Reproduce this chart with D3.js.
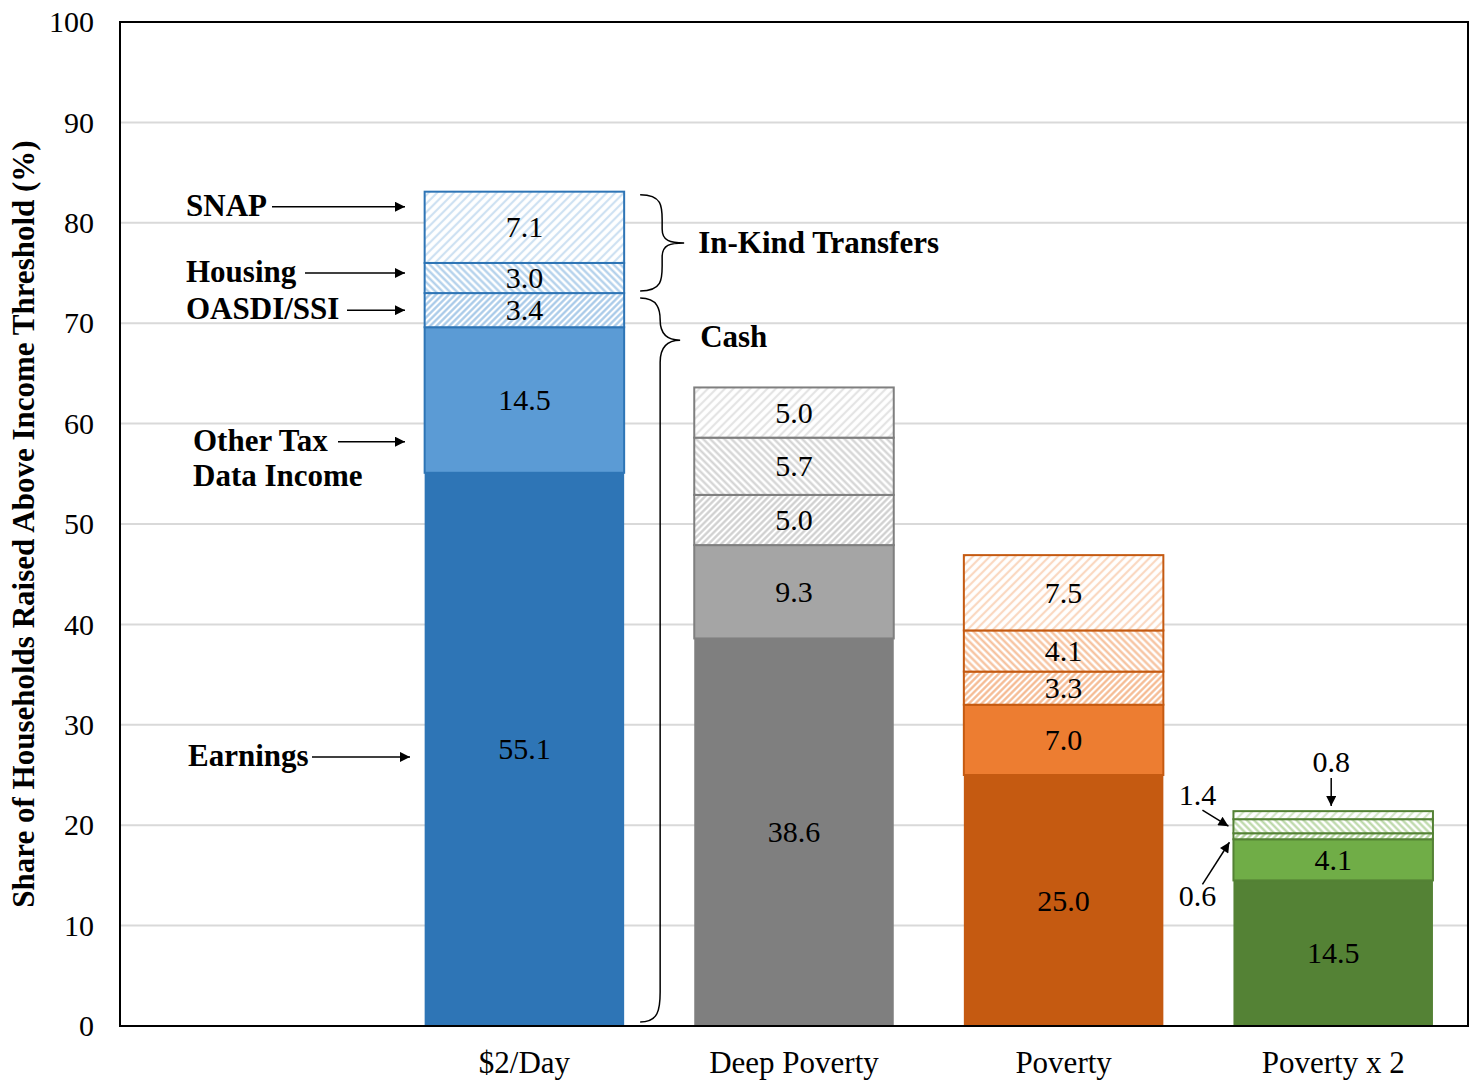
<!DOCTYPE html>
<html>
<head>
<meta charset="utf-8">
<script src="https://cdn.jsdelivr.net/npm/d3@7"></script>
<style>
  body { margin: 0; background: #fff; }
  text { font-family: "Liberation Serif", "Times New Roman", serif; }
</style>
</head>
<body>
<div class="chart"></div>
<script>
// data ---------------------------------
const categories = ["", "$2/Day", "Deep Poverty", "Poverty", "Poverty x 2"];
const earnings = [55.1, 38.6, 25.0, 14.5];
const otherTax = [14.5, 9.3, 7.0, 4.1];
const oasdi    = [3.4, 5.0, 3.3, 0.6];
const housing  = [3.0, 5.7, 4.1, 1.4];
const snap     = [7.1, 5.0, 7.5, 0.8];
const yTicks = [0, 10, 20, 30, 40, 50, 60, 70, 80, 90, 100];

const darkColors  = ["#2E75B6", "#7F7F7F", "#C55A11", "#548235"];
const lightColors = ["#5B9BD5", "#A5A5A5", "#ED7D31", "#70AD47"];

// chart init -----------------------------
const margin = {top: 22, right: 9, bottom: 56, left: 120};
const width = 1477 - margin.left - margin.right;
const height = 1082 - margin.top - margin.bottom;

const root = d3.select('.chart')
    .append('svg')
    .attr("width", 1477)
    .attr("height", 1082);

const svg = root.append("g")
    .attr("transform", "translate(" + margin.left + "," + margin.top + ")");

const xScale = d3.scaleBand()
    .domain(categories)
    .range([0, width])
    .paddingInner(0.26)
    .paddingOuter(0.13);

const yScale = d3.scaleLinear()
    .domain([0, 100])
    .range([height, 0]);

// patterns
const defs = root.append("defs");
const hatch = [
    {name: "snap", dir: 45, size: 6, sw: 2.2, t: 0.3},
    {name: "housing", dir: -45, size: 5, sw: 2.2, t: 0.5},
    {name: "oasdi", dir: 45, size: 4.5, sw: 2.2, t: 0.55}
];
darkColors.forEach((c, i) => {
    hatch.forEach(h => {
        const p = defs.append("pattern")
            .attr("id", h.name + i)
            .attr("patternUnits", "userSpaceOnUse")
            .attr("width", h.size)
            .attr("height", h.size)
            .attr("patternTransform", `rotate(${h.dir})`);
        p.append("rect").attr("width", h.size).attr("height", h.size).attr("fill", "#fff");
        p.append("line")
            .attr("x1", h.size / 2).attr("x2", h.size / 2)
            .attr("y1", 0).attr("y2", h.size)
            .attr("stroke", d3.interpolateRgb("#fff", lightColors[i])(h.t))
            .attr("stroke-width", h.sw);
    });
});

// gridlines
svg.append("g")
    .selectAll("line")
    .data(yTicks.slice(1, -1))
    .join("line")
    .attr("x1", 0).attr("x2", width)
    .attr("y1", d => yScale(d)).attr("y2", d => yScale(d))
    .attr("stroke", "#D9D9D9")
    .attr("stroke-width", 2);

// y axis labels
const yAxis = d3.axisLeft(yScale).tickValues(yTicks).tickSize(0).tickPadding(26);
svg.append("g")
    .attr("class", "y-axis")
    .call(yAxis)
    .call(g => g.select(".domain").remove())
    .selectAll("text")
    .style("font-size", "30px")
    .attr("fill", "#000");

// x axis labels
const xAxis = d3.axisBottom(xScale).tickSize(0).tickPadding(25);
svg.append("g")
    .attr("transform", `translate(0, ${height})`)
    .call(xAxis)
    .call(g => g.select(".domain").remove())
    .selectAll("text")
    .style("font-size", "31px")
    .attr("fill", "#000");

// stacked segments
const segments = [];
categories.slice(1).forEach((cat, i) => {
    const parts = [
        {key: "earn", v: earnings[i], fill: darkColors[i], stroke: "none"},
        {key: "other", v: otherTax[i], fill: lightColors[i], stroke: darkColors[i]},
        {key: "oasdi", v: oasdi[i], fill: `url(#oasdi${i})`, stroke: darkColors[i]},
        {key: "housing", v: housing[i], fill: `url(#housing${i})`, stroke: darkColors[i]},
        {key: "snap", v: snap[i], fill: `url(#snap${i})`, stroke: darkColors[i]}
    ];
    let base = 0;
    parts.forEach(p => {
        segments.push({cat: cat, y0: base, y1: base + p.v, v: p.v, fill: p.fill, stroke: p.stroke});
        base += p.v;
    });
});

svg.selectAll(".seg")
    .data(segments)
    .join("rect")
    .attr("class", "seg")
    .attr("x", d => xScale(d.cat))
    .attr("width", xScale.bandwidth())
    .attr("y", d => yScale(d.y1))
    .attr("height", d => yScale(d.y0) - yScale(d.y1))
    .attr("fill", d => d.fill)
    .attr("stroke", d => d.stroke)
    .attr("stroke-width", 2);

svg.selectAll(".val")
    .data(segments.filter(d => d.v >= 2))
    .join("text")
    .attr("class", "val")
    .attr("x", d => xScale(d.cat) + xScale.bandwidth() / 2)
    .attr("y", d => yScale((d.y0 + d.y1) / 2) + 10)
    .attr("text-anchor", "middle")
    .attr("font-size", "30px")
    .text(d => d.v.toFixed(1));

// frame
svg.append("rect")
    .attr("width", width).attr("height", height)
    .attr("fill", "none").attr("stroke", "#000").attr("stroke-width", 2);

// axis title
root.append("text")
    .attr("transform", `translate(34, ${margin.top + height / 2}) rotate(-90)`)
    .attr("text-anchor", "middle")
    .attr("font-size", "31px")
    .attr("font-weight", "bold")
    .text("Share of Households Raised Above Income Threshold (%)");

// arrow marker
defs.append("marker")
    .attr("id", "arrow")
    .attr("viewBox", "0 0 10 10")
    .attr("refX", 10).attr("refY", 5)
    .attr("markerWidth", 12).attr("markerHeight", 10)
    .attr("markerUnits", "userSpaceOnUse")
    .attr("orient", "auto")
    .append("path").attr("d", "M0,0 L10,5 L0,10 Z").attr("fill", "#000");

// left annotations
const leftLabels = [
    {lines: ["SNAP"], x: 66, v: 81.6, ax0: 152, ax1: 285},
    {lines: ["Housing"], x: 66, v: 75.0, ax0: 185, ax1: 285},
    {lines: ["OASDI/SSI"], x: 66, v: 71.3, ax0: 227, ax1: 285},
    {lines: ["Other Tax", "Data Income"], x: 73, v: 58.2, ax0: 218, ax1: 285},
    {lines: ["Earnings"], x: 68, v: 26.8, ax0: 192, ax1: 290}
];
leftLabels.forEach(l => {
    const y = yScale(l.v);
    l.lines.forEach((t, k) => {
        svg.append("text")
            .attr("x", l.x)
            .attr("y", y + 9 + k * 35)
            .attr("font-size", "31px")
            .attr("font-weight", "bold")
            .text(t);
    });
    svg.append("line")
        .attr("x1", l.ax0).attr("x2", l.ax1)
        .attr("y1", y).attr("y2", y)
        .attr("stroke", "#000").attr("stroke-width", 1.5)
        .attr("marker-end", "url(#arrow)");
});

// braces
const bx = xScale("$2/Day") + xScale.bandwidth() + 16;
const inTop = yScale(83.1) + 3, inBot = yScale(73.1) - 1, inMid = (inTop + inBot) / 2;
svg.append("path")
    .attr("d", `M${bx},${inTop} C${bx + 22},${inTop} ${bx + 22},${inTop + 12} ${bx + 22},${inTop + 25}
        L${bx + 22},${inMid - 14} C${bx + 22},${inMid - 2} ${bx + 30},${inMid} ${bx + 44},${inMid}
        C${bx + 30},${inMid} ${bx + 22},${inMid + 2} ${bx + 22},${inMid + 14}
        L${bx + 22},${inBot - 25} C${bx + 22},${inBot - 12} ${bx + 22},${inBot} ${bx},${inBot}`)
    .attr("fill", "none").attr("stroke", "#000").attr("stroke-width", 1.5);

const cTop = yScale(72.7) + 2, cBot = yScale(0) - 4, cMid = yScale(68.3);
svg.append("path")
    .attr("d", `M${bx},${cTop} C${bx + 18},${cTop} ${bx + 20},${cTop + 12} ${bx + 20},${cTop + 22}
        C${bx + 20},${cMid - 6} ${bx + 28},${cMid} ${bx + 40},${cMid}
        C${bx + 28},${cMid} ${bx + 20},${cMid + 6} ${bx + 20},${cMid + 22}
        L${bx + 20},${cBot - 30} C${bx + 20},${cBot - 12} ${bx + 18},${cBot} ${bx},${cBot}`)
    .attr("fill", "none").attr("stroke", "#000").attr("stroke-width", 1.5);

svg.append("text")
    .attr("x", bx + 58).attr("y", inMid + 10)
    .attr("font-size", "31px").attr("font-weight", "bold")
    .text("In-Kind Transfers");
svg.append("text")
    .attr("x", bx + 60).attr("y", cMid + 7)
    .attr("font-size", "31px").attr("font-weight", "bold")
    .text("Cash");

// small value callouts for Poverty x 2
const gx = xScale("Poverty x 2");
const gc = gx + xScale.bandwidth() / 2;
svg.append("text").attr("x", gc - 2).attr("y", yScale(25.3)).attr("text-anchor", "middle")
    .attr("font-size", "30px").text(snap[3].toFixed(1));
svg.append("line").attr("x1", gc - 2).attr("x2", gc - 2)
    .attr("y1", yScale(24.7)).attr("y2", yScale(21.9))
    .attr("stroke", "#000").attr("stroke-width", 1.5).attr("marker-end", "url(#arrow)");

svg.append("text").attr("x", gx - 36).attr("y", yScale(22.0)).attr("text-anchor", "middle")
    .attr("font-size", "30px").text(housing[3].toFixed(1));
svg.append("line").attr("x1", gx - 31).attr("x2", gx - 5)
    .attr("y1", yScale(21.5)).attr("y2", yScale(19.9))
    .attr("stroke", "#000").attr("stroke-width", 1.5).attr("marker-end", "url(#arrow)");

svg.append("text").attr("x", gx - 36).attr("y", yScale(12.0)).attr("text-anchor", "middle")
    .attr("font-size", "30px").text(oasdi[3].toFixed(1));
svg.append("line").attr("x1", gx - 31).attr("x2", gx - 4)
    .attr("y1", yScale(14.1)).attr("y2", yScale(18.3))
    .attr("stroke", "#000").attr("stroke-width", 1.5).attr("marker-end", "url(#arrow)");
</script>
</body>
</html>
